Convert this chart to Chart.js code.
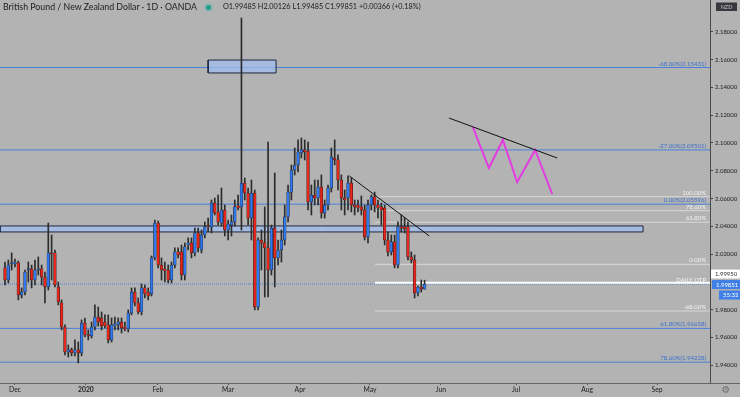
<!DOCTYPE html>
<html>
<head>
<meta charset="utf-8">
<title>GBPNZD 1D</title>
<script src="https://cdn.jsdelivr.net/npm/chart.js@4.4.0/dist/chart.umd.min.js"></script>
<style>
  html, body { margin: 0; padding: 0; background: #b3b3b3; }
  #wrap { position: relative; width: 740px; height: 397px; }
  #chart { position: absolute; left: 0; top: 0; }
  .lg { position: absolute; font-family: Lato, sans-serif; color: #1c1c1c; white-space: nowrap; }
  #sym { left: 3px; top: 1px; font-size: 8.8px; }
  #ohlc { left: 223px; top: 2px; font-size: 7.3px; }
  #dot { position: absolute; left: 206px; top: 4.5px; width: 5px; height: 5px; border-radius: 50%;
         background: #1e9e8f; box-shadow: 0 0 0 1.5px rgba(60, 190, 170, 0.35); }
</style>
</head>
<body>
<div id="wrap">
  <canvas id="chart" width="740" height="397"></canvas>
  <div class="lg" id="sym">British Pound / New Zealand Dollar · 1D · OANDA</div>
  <div id="dot"></div>
  <div class="lg" id="ohlc">O1.99485 H2.00126 L1.99485 C1.99851 +0.00366 (+0.18%)</div>
</div>
<script>
// daily candles, late Nov 2019 -> late May 2020 (index = trading day)
const opens = [
  2.0101, 2.0014, 2.0129, 2.0129, 2.0137, 1.9906, 1.9928, 2.0086, 2.0094, 2.0014,
  2.0086, 2.0094, 2.0036, 1.9964, 2.0209, 2.0209, 1.9964, 1.9849, 1.9676, 1.9496,
  1.9511, 1.9489, 1.9511, 1.9489, 1.9705, 1.9619, 1.9612, 1.9676, 1.9748, 1.9741,
  1.9712, 1.9691, 1.9583, 1.9683, 1.9691, 1.9712, 1.9676, 1.9662, 1.9777, 1.9928,
  1.9849, 1.9784, 1.9957, 1.9928, 1.9914, 2.0173, 2.0424, 2.0122, 2.0094, 2.0086,
  2.0014, 2.0122, 2.0216, 2.0216, 2.0050, 2.0266, 2.0281, 2.0209, 2.0353, 2.0230,
  2.0338, 2.0403, 2.0396, 2.0568, 2.0504, 2.0424, 2.0518, 2.0374, 2.0410, 2.0432,
  2.0547, 2.0540, 2.0712, 2.0640, 2.0460, 2.0640, 1.9820, 2.0302, 2.0281, 2.0245,
  2.0086, 2.0388, 2.0173, 2.0230, 2.0302, 2.0468, 2.0647, 2.0806, 2.0842, 2.0928,
  2.0950, 2.0942, 2.0576, 2.0626, 2.0604, 2.0683, 2.0496, 2.0554, 2.0676, 2.0892,
  2.0878, 2.0734, 2.0604, 2.0604, 2.0712, 2.0554, 2.0554, 2.0540, 2.0518, 2.0324,
  2.0554, 2.0612, 2.0554, 2.0540, 2.0532, 2.0302, 2.0216, 2.0288, 2.0122, 2.0396,
  2.0396, 2.0396, 2.0180, 2.0158, 1.9921, 1.9964, 1.99485
];
const highs = [
  2.0144, 2.0158, 2.0209, 2.0165, 2.0151, 1.9957, 2.0086, 2.0144, 2.0122, 2.0158,
  2.0180, 2.0122, 2.0072, 2.0424, 2.0338, 2.0230, 2.0000, 1.9871, 1.9691, 1.9547,
  1.9525, 1.9583, 1.9568, 1.9727, 1.9741, 1.9655, 1.9712, 1.9835, 1.9820, 1.9784,
  1.9763, 1.9763, 1.9741, 1.9748, 1.9741, 1.9741, 1.9712, 1.9799, 1.9957, 1.9957,
  1.9885, 1.9986, 1.9978, 1.9957, 2.0187, 2.0446, 2.0439, 2.0173, 2.0144, 2.0122,
  2.0144, 2.0245, 2.0245, 2.0266, 2.0281, 2.0317, 2.0317, 2.0388, 2.0388, 2.0374,
  2.0432, 2.0460, 2.0590, 2.0604, 2.0626, 2.0676, 2.0554, 2.0446, 2.0482, 2.0590,
  2.0626, 2.1899, 2.0748, 2.0676, 2.0734, 2.0662, 2.0317, 2.0374, 2.0540, 2.1007,
  2.0410, 2.0784, 2.0302, 2.0374, 2.0554, 2.0698, 2.0842, 2.0964, 2.1022, 2.1036,
  2.1022, 2.1007, 2.0698, 2.0734, 2.0734, 2.0770, 2.0590, 2.0698, 2.0964, 2.1022,
  2.0914, 2.0770, 2.0662, 2.0763, 2.0748, 2.0590, 2.0590, 2.0619, 2.0554, 2.0590,
  2.0626, 2.0647, 2.0590, 2.0568, 2.0554, 2.0360, 2.0338, 2.0338, 2.0432, 2.0482,
  2.0460, 2.0432, 2.0216, 2.0194, 1.9971, 2.0014, 2.00126
];
const lows = [
  1.9978, 1.9993, 2.0086, 2.0108, 1.9871, 1.9885, 1.9906, 2.0000, 1.9957, 1.9978,
  2.0050, 1.9978, 1.9849, 1.9942, 2.0014, 1.9964, 1.9835, 1.9655, 1.9475, 1.9460,
  1.9468, 1.9468, 1.9417, 1.9468, 1.9604, 1.9583, 1.9597, 1.9655, 1.9683, 1.9655,
  1.9669, 1.9561, 1.9568, 1.9655, 1.9655, 1.9633, 1.9647, 1.9640, 1.9763, 1.9827,
  1.9770, 1.9763, 1.9885, 1.9871, 1.9899, 2.0158, 2.0101, 2.0014, 2.0000, 1.9993,
  1.9993, 2.0101, 2.0173, 2.0014, 2.0014, 2.0230, 2.0173, 2.0187, 2.0216, 2.0209,
  2.0317, 2.0360, 2.0353, 2.0482, 2.0410, 2.0403, 2.0331, 2.0302, 2.0331, 2.0403,
  2.0518, 2.0374, 2.0590, 2.0410, 2.0302, 1.9799, 1.9799, 2.0086, 1.9892, 1.9892,
  2.0050, 1.9964, 2.0122, 2.0144, 2.0266, 2.0432, 2.0590, 2.0770, 2.0791, 2.0892,
  2.0878, 2.0518, 2.0482, 2.0554, 2.0554, 2.0460, 2.0460, 2.0518, 2.0647, 2.0842,
  2.0662, 2.0518, 2.0482, 2.0518, 2.0504, 2.0482, 2.0504, 2.0482, 2.0302, 2.0281,
  2.0518, 2.0504, 2.0460, 2.0410, 2.0266, 2.0187, 2.0194, 2.0101, 2.0101, 2.0360,
  2.0353, 2.0158, 2.0137, 1.9885, 1.9899, 1.9928, 1.99485
];
const closes = [
  2.0014, 2.0122, 2.0137, 2.0144, 1.9906, 1.9928, 2.0072, 2.0094, 2.0014, 2.0086,
  2.0094, 2.0036, 1.9964, 2.0209, 2.0201, 1.9978, 1.9856, 1.9676, 1.9496, 1.9511,
  1.9489, 1.9511, 1.9489, 1.9705, 1.9619, 1.9612, 1.9676, 1.9748, 1.9712, 1.9683,
  1.9683, 1.9583, 1.9691, 1.9698, 1.9712, 1.9669, 1.9662, 1.9777, 1.9928, 1.9849,
  1.9784, 1.9957, 1.9914, 1.9899, 2.0173, 2.0424, 2.0122, 2.0086, 2.0079, 2.0014,
  2.0122, 2.0216, 2.0194, 2.0050, 2.0252, 2.0281, 2.0209, 2.0353, 2.0245, 2.0338,
  2.0396, 2.0396, 2.0568, 2.0496, 2.0432, 2.0518, 2.0374, 2.0417, 2.0432, 2.0540,
  2.0532, 2.0712, 2.0640, 2.0460, 2.0640, 1.9820, 2.0302, 2.0281, 2.0245, 2.0086,
  2.0388, 2.0173, 2.0230, 2.0302, 2.0468, 2.0647, 2.0806, 2.0842, 2.0935, 2.0950,
  2.0935, 2.0576, 2.0626, 2.0604, 2.0683, 2.0496, 2.0554, 2.0676, 2.0899, 2.0878,
  2.0734, 2.0604, 2.0590, 2.0712, 2.0554, 2.0540, 2.0532, 2.0518, 2.0324, 2.0554,
  2.0612, 2.0554, 2.0532, 2.0518, 2.0302, 2.0216, 2.0288, 2.0122, 2.0396, 2.0388,
  2.0381, 2.0180, 2.0158, 1.9921, 1.9964, 1.9950, 1.99851
];

// axis ticks
const monthTicks = [3.0, 24.3, 45.9, 67.0, 88.6, 109.6, 130.9, 153.5, 174.8, 195.8];
const monthLabels = ["Dec", "2020", "Feb", "Mar", "Apr", "May", "Jun", "Jul", "Aug", "Sep"];
const priceTicks = [1.94, 1.96, 1.98, 2.02, 2.04, 2.06, 2.08, 2.10, 2.12, 2.14, 2.16, 2.18];

// fib levels
const fibBluePrices = [2.15431, 2.09501, 2.05596, 1.96658, 1.94228];
const fibBlueLabels = ["-68.00%(2.15431)", "-27.00%(2.09501)", "0.00%(2.05596)", "61.80%(1.96658)", "78.60%(1.94228)"];
const fibGrayPrices = [2.0614, 2.0513, 2.0430, 2.0127, 1.9791];
const fibGrayLabels = ["100.00%", "78.60%", "61.80%", "0.00%", "-68.00%"];
const pivotPrice = 1.9995;
const pivotLabel = "DAILY OTP";
const lastPrice = 1.99851;
const countdown = "55:32";
const fibGrayStart = 111.1;

// drawings
const trendAX = [103.4, 127.4], trendAY = [2.0763, 2.0331];
const trendBX = [133.3, 165.8], trendBY = [2.1180, 2.0892];
const zigX = [140.5, 145.3, 149.5, 153.8, 159.2, 164.3];
const zigY = [2.1115, 2.0820, 2.1022, 2.0719, 2.0950, 2.0633];
const boxX = [61.0, 81.4], boxY = [2.1504, 2.1597];
const zoneX = [-1.5, 191.6], zoneY = [2.0360, 2.0403];

const X_MIN = -1.5, X_MAX = 211.7;
const Y_MIN = 1.9273, Y_MAX = 2.2029;

const UP = "#3179f0";
const DOWN = "#e8261c";

const wickData = highs.map((h, i) => ({ x: i, y: [lows[i], h] }));
const bodyData = opens.map((o, i) => ({ x: i, y: [Math.min(o, closes[i]), Math.max(o, closes[i])] }));
const bodyColors = opens.map((o, i) => (closes[i] >= o ? UP : DOWN));

function hline(p, x0, x1) {
  return [{ x: x0, y: p }, { x: x1, y: p }];
}
function rect(xs, ys) {
  return [
    { x: xs[0], y: ys[0] }, { x: xs[1], y: ys[0] },
    { x: xs[1], y: ys[1] }, { x: xs[0], y: ys[1] }, { x: xs[0], y: ys[0] }
  ];
}
function lineSet(data, color, width, order, dash) {
  return {
    type: "line", data: data, borderColor: color, borderWidth: width,
    pointRadius: 0, fill: false, tension: 0, order: order, borderDash: dash || []
  };
}

const datasets = [];
fibBluePrices.forEach(p => datasets.push(lineSet(hline(p, X_MIN, X_MAX), "#4a82d8", 1, 6)));
fibGrayPrices.forEach(p => datasets.push(lineSet(hline(p, fibGrayStart, X_MAX), "#d9d9d9", 1, 6)));
datasets.push(lineSet(hline(pivotPrice, fibGrayStart, X_MAX), "#ffffff", 2, 6));
datasets.push(lineSet(hline(lastPrice, X_MIN, X_MAX), "#4a82d8", 1, 6, [1, 1]));
datasets.push(Object.assign(lineSet(rect(zoneX, zoneY), "#1f2840", 1, 5), { fill: "shape", backgroundColor: "rgba(160,190,240,0.72)" }));
datasets.push(Object.assign(lineSet(rect(boxX, boxY), "#1f2840", 1, 5), { fill: "shape", backgroundColor: "rgba(160,190,240,0.72)" }));
datasets.push({
  type: "bar", data: wickData, backgroundColor: "#2c2c2c", barThickness: 1,
  grouped: false, order: 3, minBarLength: 1
});
datasets.push({
  type: "bar", data: bodyData, backgroundColor: bodyColors, borderColor: "#1a1a1a",
  borderWidth: 0.5, borderSkipped: false, barThickness: 2.7, grouped: false,
  order: 2, minBarLength: 1
});
datasets.push(lineSet(trendAX.map((x, i) => ({ x: x, y: trendAY[i] })), "#111111", 1, 0));
datasets.push(lineSet(trendBX.map((x, i) => ({ x: x, y: trendBY[i] })), "#111111", 1, 0));
datasets.push(lineSet(zigX.map((x, i) => ({ x: x, y: zigY[i] })), "#e23de0", 2, 0));

function box(c, x, yc, w, bg, fg, text) {
  c.fillStyle = bg;
  c.fillRect(x, yc - 4.5, w, 9);
  c.fillStyle = fg;
  c.textAlign = "left";
  c.textBaseline = "middle";
  c.fillText(text, x + 4, yc + 0.5);
}

const decor = {
  id: "decor",
  beforeDraw(chart) {
    const c = chart.ctx;
    c.save();
    c.fillStyle = "#b3b3b3";
    c.fillRect(0, 0, chart.width, chart.height);
    c.restore();
  },
  afterDraw(chart) {
    const c = chart.ctx;
    const ys = chart.scales.y;
    const area = chart.chartArea;
    c.save();
    c.font = "6px Lato";
    c.textAlign = "right";
    c.textBaseline = "alphabetic";
    c.fillStyle = "#3a70cc";
    fibBluePrices.forEach((p, i) => c.fillText(fibBlueLabels[i], area.right - 4, ys.getPixelForValue(p) - 2));
    c.fillStyle = "#f4f4f4";
    fibGrayPrices.forEach((p, i) => c.fillText(fibGrayLabels[i], area.right - 4, ys.getPixelForValue(p) - 2));
    c.fillText(pivotLabel, area.right - 4, ys.getPixelForValue(pivotPrice) - 1);

    // right scale extras
    c.strokeStyle = "#666";
    c.lineWidth = 1;
    c.beginPath();
    c.moveTo(area.right, area.bottom + 0.5);
    c.lineTo(chart.width, area.bottom + 0.5);
    c.stroke();

    c.font = "6px Lato";
    const yl = ys.getPixelForValue(lastPrice);
    box(c, area.right + 1, yl - 10, 29, "#ffffff", "#333333", pivotPrice.toFixed(5));
    box(c, area.right + 2, yl + 0.5, 28, "#3f7fe6", "#ffffff", lastPrice.toFixed(5));
    box(c, area.right + 9, yl + 11, 21, "#3f7fe6", "#ffffff", countdown);

    c.fillStyle = "#36383d";
    c.fillRect(716, 2.5, 21, 8.5);
    c.fillStyle = "#c4c4c4";
    c.font = "5.5px Lato";
    c.textAlign = "center";
    c.textBaseline = "middle";
    c.fillText("NZD", 726.5, 7);

    c.fillStyle = "#707070";
    c.font = "10px 'DejaVu Sans'";
    c.fillText("\u2699", 726, 390);
    c.restore();
  }
};

Chart.defaults.font.family = "Lato";

new Chart(document.getElementById("chart"), {
  type: "bar",
  data: { datasets: datasets },
  options: {
    responsive: false,
    animation: false,
    devicePixelRatio: 1,
    layout: { padding: 0 },
    plugins: { legend: { display: false }, tooltip: { enabled: false } },
    scales: {
      x: {
        type: "linear",
        min: X_MIN,
        max: X_MAX,
        offset: false,
        grid: { drawOnChartArea: false, offset: false, tickLength: 2, color: "#555" },
        border: { color: "#666" },
        ticks: {
          autoSkip: false,
          maxRotation: 0,
          padding: 1,
          color: "#222",
          font: (ctx) => ({
            size: 6.8,
            weight: ctx.tick && monthLabels[monthTicks.indexOf(ctx.tick.value)] === "2020" ? "bold" : "normal"
          }),
          callback: (v) => monthLabels[monthTicks.indexOf(v)]
        },
        afterBuildTicks: (s) => { s.ticks = monthTicks.map(v => ({ value: v })); },
        afterFit: (s) => { s.height = 14; s.paddingLeft = 0; s.paddingRight = 0; }
      },
      y: {
        type: "linear",
        position: "right",
        min: Y_MIN,
        max: Y_MAX,
        grid: { drawOnChartArea: false, tickLength: 3, color: "#444" },
        border: { color: "#4a4a4a" },
        ticks: {
          padding: 2,
          color: "#222",
          font: { size: 6 },
          callback: (v) => v.toFixed(5)
        },
        afterBuildTicks: (s) => { s.ticks = priceTicks.map(v => ({ value: v })); },
        afterFit: (s) => { s.width = 30; s.paddingTop = 0; s.paddingBottom = 0; }
      }
    }
  },
  plugins: [decor]
});
</script>
</body>
</html>
